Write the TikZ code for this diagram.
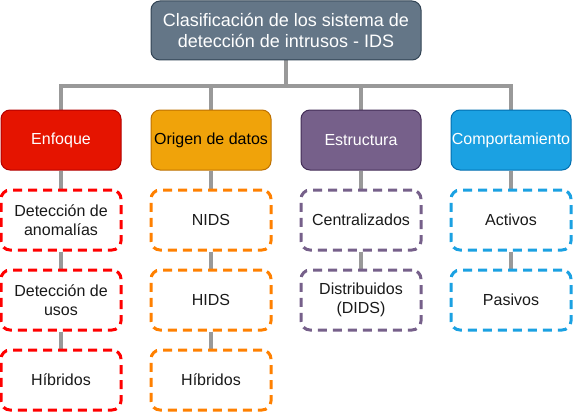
\documentclass[tikz,border=0pt]{standalone}
\usepackage{fontspec}
\setmainfont{Liberation Sans}
\usetikzlibrary{backgrounds}
\definecolor{slatefill}{HTML}{647687}
\definecolor{slatedraw}{HTML}{314354}
\definecolor{redfill}{HTML}{E51400}
\definecolor{reddraw}{HTML}{B20000}
\definecolor{orgfill}{HTML}{F0A30A}
\definecolor{orgdraw}{HTML}{BD7000}
\definecolor{purfill}{HTML}{76608A}
\definecolor{purdraw}{HTML}{432D57}
\definecolor{bluefill}{HTML}{1BA1E2}
\definecolor{bluedraw}{HTML}{006EAF}
\definecolor{dashred}{HTML}{FF0000}
\definecolor{dashorg}{HTML}{FF8000}
\definecolor{linkgray}{HTML}{999999}
\definecolor{txtdark}{HTML}{1A1A1A}
\begin{document}
\begin{tikzpicture}[x=1pt,y=1pt,
  box/.style={rectangle, rounded corners=9pt, minimum width=120pt, minimum height=60pt,
    inner sep=0pt, align=center, line width=1pt, font=\fontsize{16}{19.2}\selectfont},
  catbox/.style={box, text=white},
  subbox/.style={box, fill=white, line width=3pt, dash pattern=on 9pt off 6pt,
    text=txtdark},
  link/.style={draw=linkgray, line width=4pt}]
\useasboundingbox (0,0) rectangle (573,-412);
% nodes
\node[box, minimum width=270pt, minimum height=59pt, fill=slatefill, draw=slatedraw, text=white,
  font=\fontsize{18}{21.6}\selectfont] (top) at (286,-30.5)
  {Clasificación de los sistema de\\detección de intrusos - IDS};
\node[catbox, fill=redfill, draw=reddraw] (c1) at (61,-140) {Enfoque};
\node[catbox, fill=orgfill, draw=orgdraw, text=black] (c2) at (211,-140) {Origen de datos};
\node[catbox, fill=purfill, draw=purdraw] (c3) at (361,-140) {Estructura};
\node[catbox, fill=bluefill, draw=bluedraw] (c4) at (511,-140) {Comportamiento};
% sub boxes
\node[subbox, draw=dashred] (a1) at (61,-220) {Detección de\\anomalías};
\node[subbox, draw=dashred] (a2) at (61,-300) {Detección de\\usos};
\node[subbox, draw=dashred] (a3) at (61,-380) {Híbridos};
\node[subbox, draw=dashorg] (b1) at (211,-220) {NIDS};
\node[subbox, draw=dashorg] (b2) at (211,-300) {HIDS};
\node[subbox, draw=dashorg] (b3) at (211,-380) {Híbridos};
\node[subbox, draw=purfill] (d1) at (361,-220) {Centralizados};
\node[subbox, draw=purfill] (d2) at (361,-300) {Distribuidos\\(DIDS)};
\node[subbox, draw=bluefill] (e1) at (511,-220) {Activos};
\node[subbox, draw=bluefill] (e2) at (511,-300) {Pasivos};
% connectors (behind)
\coordinate (bar) at (286,-86);
\begin{scope}[on background layer]
\foreach \c in {c1,c2,c3,c4}{
  \draw[link] (top.south) -- (bar) -| (\c.north);
}
\draw[link] (c1.south) -- (a1.north);
\draw[link] (a1.south) -- (a2.north);
\draw[link] (a2.south) -- (a3.north);
\draw[link] (c2.south) -- (b1.north);
\draw[link] (b1.south) -- (b2.north);
\draw[link] (b2.south) -- (b3.north);
\draw[link] (c3.south) -- (d1.north);
\draw[link] (d1.south) -- (d2.north);
\draw[link] (c4.south) -- (e1.north);
\draw[link] (e1.south) -- (e2.north);
\end{scope}
\end{tikzpicture}
\end{document}
